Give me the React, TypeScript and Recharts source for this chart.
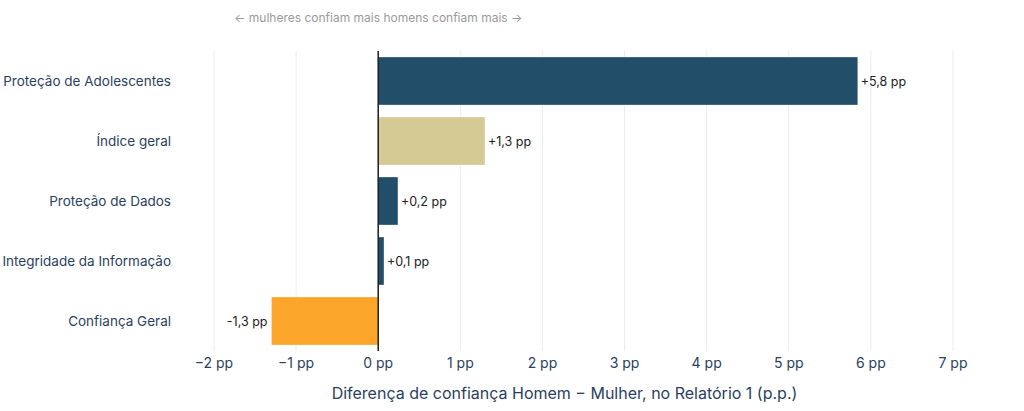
import { BarChart, Bar, XAxis, YAxis, CartesianGrid, Cell, LabelList, ReferenceLine } from 'recharts'

// categories top to bottom, gap in p.p. (men minus women)
const categories = [
  'Proteção de Adolescentes',
  'Índice geral',
  'Proteção de Dados',
  'Integridade da Informação',
  'Confiança Geral',
]
const gaps = [5.84, 1.3, 0.24, 0.07, -1.3]
const xTicks = [-2, -1, 0, 1, 2, 3, 4, 5, 6, 7]

const DARK = '#234e6a'
const OVERALL = '#d5c994'
const NEG = '#fba52a'

const fmtTick = (v: number) => (v < 0 ? '\u2212' + Math.abs(v) : String(v)) + ' pp'
const fmtGap = (v: number) => (v > 0 ? '+' : '') + v.toFixed(1).replace('.', ',') + ' pp'

const data = categories.map((name, i) => ({ name, gap: gaps[i] }))

const colorFor = (name: string, v: number) => {
  if (v < 0) return NEG
  if (name === 'Índice geral') return OVERALL
  return DARK
}

const GapLabel = (props: any) => {
  const { x, y, width, height, value } = props
  const end = x + width
  const neg = value < 0
  // width comes negative for bars going left
  const tx = neg ? Math.min(x, end) - 4 : Math.max(x, end) + 3
  return (
    <text
      x={tx}
      y={y + height / 2}
      dy={5}
      textAnchor={neg ? 'end' : 'start'}
      fontSize={12.5}
      fill="#222"
    >
      {fmtGap(value)}
    </text>
  )
}

export default function App() {
  return (
    <div style={{ position: 'absolute', left: 0, top: 0, width: 1024, height: 411, background: 'white', fontFamily: 'Inter, sans-serif' }}>
      <div style={{ position: 'absolute', left: 234, top: 10, fontSize: 12, color: '#9a9a9a', whiteSpace: 'nowrap' }}>
        ← mulheres confiam mais homens confiam mais →
      </div>
      <BarChart
        width={1024}
        height={411}
        data={data}
        layout="vertical"
        barSize={48}
        margin={{ top: 51, right: 71, left: 0, bottom: 0 }}
      >
        <CartesianGrid horizontal={false} stroke="#ececec" />
        <XAxis
          type="number"
          dataKey="gap"
          domain={[-2, 7]}
          ticks={xTicks}
          tickFormatter={fmtTick}
          axisLine={false}
          tickLine={false}
          tick={{ fill: '#2a3f5f', fontSize: 14 }}
          tickMargin={1}
          height={60}
          label={{ value: 'Diferença de confiança Homem − Mulher, no Relatório 1 (p.p.)', position: 'insideBottom', offset: 12, dx: -19, fill: '#2a3f5f', fontSize: 16 }}
        />
        <YAxis
          type="category"
          dataKey="name"
          width={214}
          axisLine={false}
          tickLine={false}
          tickSize={0}
          tickMargin={43}
          tick={{ fill: '#2a3f5f', fontSize: 13.5 }}
        />
        <Bar dataKey="gap" isAnimationActive={false} stroke="rgba(255,255,255,0.6)" strokeWidth={0.5}>
          {data.map((d) => (
            <Cell key={d.name} fill={colorFor(d.name, d.gap)} />
          ))}
          <LabelList dataKey="gap" content={GapLabel} />
        </Bar>
        <ReferenceLine x={0} stroke="#1e1e1e" strokeWidth={1.5} />
      </BarChart>
    </div>
  )
}
